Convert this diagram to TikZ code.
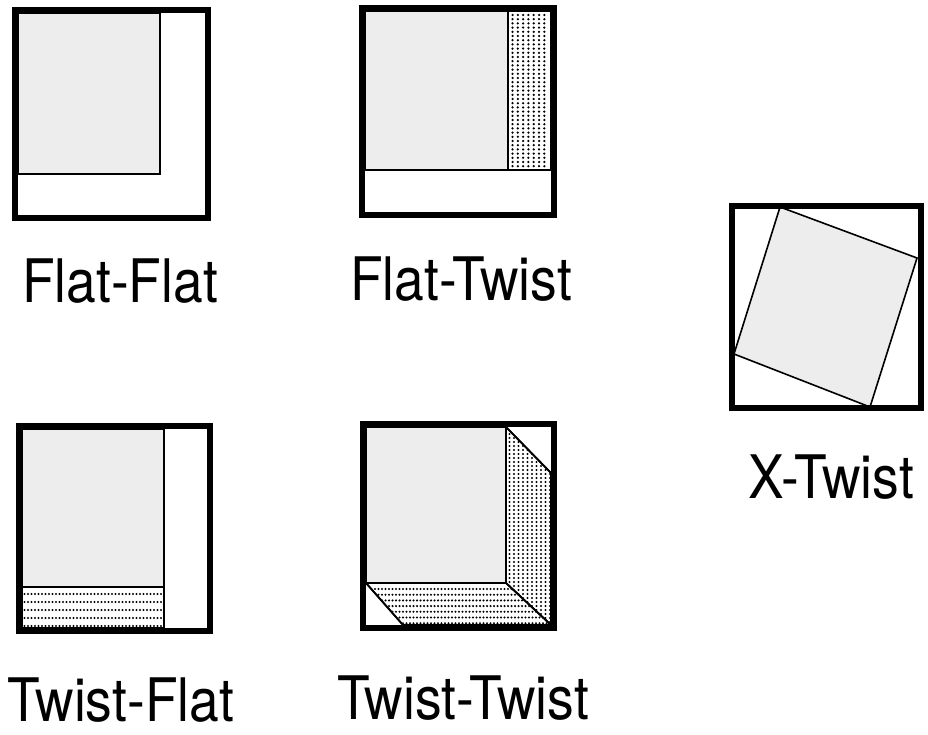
\documentclass[tikz,border=0pt]{standalone}
\usepackage{graphicx}
\usepackage{fontspec}
\setmainfont{TeX Gyre Heros}
\usepackage{tikz}
\newcommand{\squeezed}[1]{\scalebox{0.89}[1]{#1}}

\begin{document}
\begin{tikzpicture}[
        x=1pt, y=-1pt,
        frame/.style={
            draw=black, line width=6pt
        },
        sheet/.style={
            draw=black, line width=1.6pt, fill=black!7
        },
        strip/.style={
            draw=black, line width=1.6pt, fill=white
        },
        dot/.style={
            fill=black
        },
        tag/.style={
            anchor=base, inner sep=0pt, font=\fontsize{60}{72}\selectfont
        }
    ]
        \useasboundingbox (0,0) rectangle (928,735);

        % Flat-Flat
        \draw [sheet] (18,13) rectangle (160,174);
        \draw [frame] (15,10) rectangle (208,218);
        \node (flatflat) [tag] at (120,302) {\squeezed{Flat-Flat}};

        % Flat-Twist
        \draw [sheet] (365,11) rectangle (508,170);
        \draw [strip] (508,11) rectangle (551,170);
        \begin{scope}
            \clip (509,12) rectangle (550,169);
            \foreach \x in {512.5,517.8,...,548}
                \foreach \y in {15,19.2,...,167}
                    \fill [dot] (\x,\y) circle (1.25);
        \end{scope}
        \draw [frame] (362,8) rectangle (554,215);
        \node (flattwist) [tag] at (461,300) {\squeezed{Flat-Twist}};

        % Twist-Flat
        \draw [sheet] (22,429) rectangle (164,587);
        \draw [strip] (22,587) rectangle (164,628);
        \foreach \y in {594,602,...,626}
            \foreach \x in {24.5,28,...,162}
                \fill [dot] (\x,\y) circle (1.15);
        \draw [frame] (19,426) rectangle (210,631);
        \node (twistflat) [tag] at (121,721) {\squeezed{Twist-Flat}};

        % Twist-Twist
        \draw [sheet] (366,427) rectangle (506,583);
        \draw [strip] (506,427) -- (551,473) -- (551,625) -- (506,583) -- cycle;
        \draw [strip] (366,583) -- (506,583) -- (551,625) -- (403,625) -- cycle;
        \begin{scope}
            \clip (506,427) -- (551,473) -- (551,625) -- (506,583) -- cycle;
            \foreach \x in {509.5,514,...,550}
                \foreach \y in {430,434,...,624}
                    \fill [dot] (\x,\y) circle (1.15);
        \end{scope}
        \begin{scope}
            \clip (366,583) -- (506,583) -- (551,625) -- (403,625) -- cycle;
            \foreach \y in {589,594.7,...,624}
                \foreach \x in {368,371.5,...,550}
                    \fill [dot] (\x,\y) circle (1.15);
        \end{scope}
        \draw [line width=1.8pt] (506,427) -- (551,473);
        \draw [line width=1.8pt] (506,583) -- (551,625);
        \draw [line width=1.8pt] (366,583) -- (403,625);
        \draw [frame] (363,424) rectangle (554,628);
        \node (twisttwist) [tag] at (463,719) {\squeezed{Twist-Twist}};

        % X-Twist
        \draw [sheet] (780,207) -- (917,258) -- (870,407) -- (734,354) -- cycle;
        \draw [frame] (732,206) rectangle (921,408);
        \node (xtwist) [tag] at (831,498) {\squeezed{X-Twist}};
    \end{tikzpicture}
\end{document}
